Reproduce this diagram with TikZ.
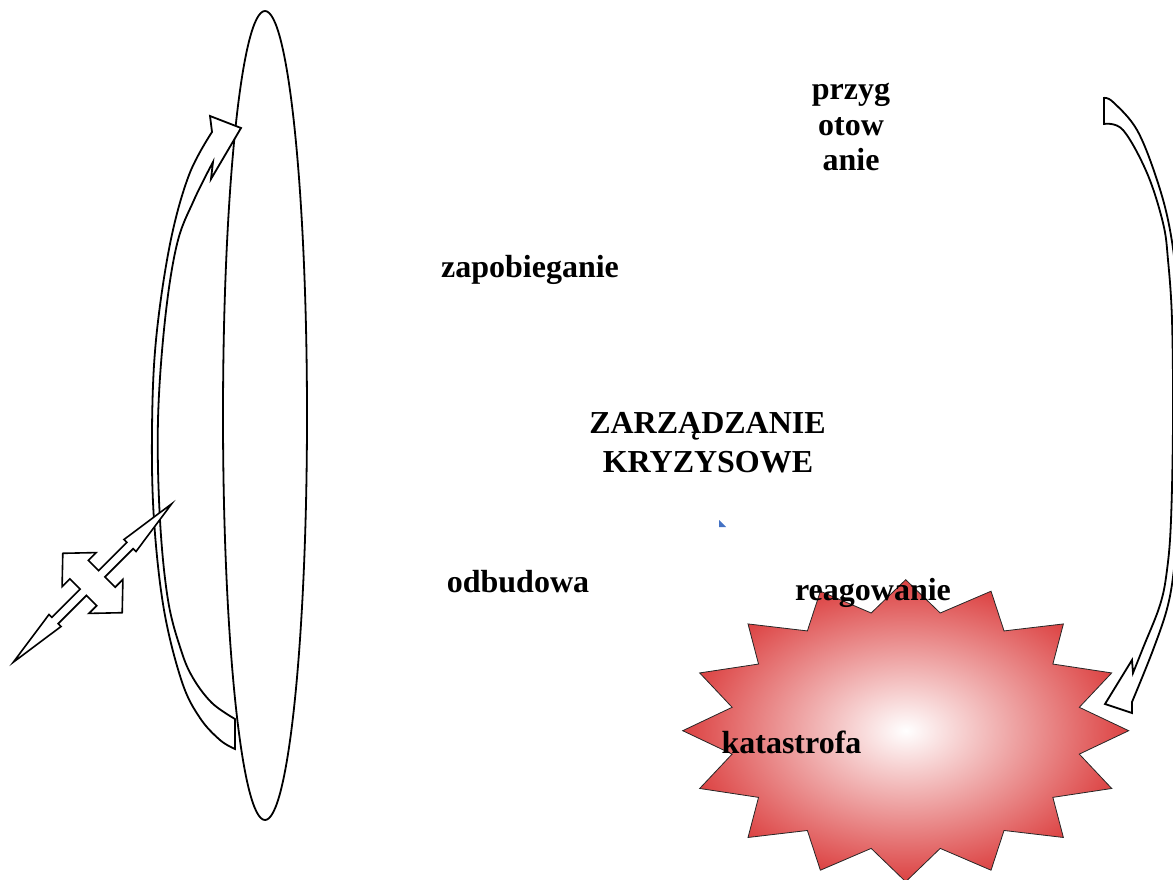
\documentclass[tikz,border=0pt]{standalone}
\usepackage{fontspec}
\setmainfont{Liberation Serif}
\definecolor{burstred}{RGB}{220,66,66}
\definecolor{tinyblue}{RGB}{68,114,196}
\pgfdeclareradialshading{burst}{\pgfpointorigin}{color(0bp)=(white); color(25bp)=(burstred); color(50bp)=(burstred)}
\begin{document}
\begin{tikzpicture}[x=1pt,y=-1pt,
  lbl/.style={font=\fontsize{32}{37}\selectfont\bfseries, inner sep=0pt, anchor=base},
  outline/.style={draw=black, line width=1.8pt, line join=miter, fill=white},
  starfill/.style={shading=burst, draw=black!85, line width=0.8pt}]
\useasboundingbox (0,0) rectangle (1173,880);
\clip (0,0) rectangle (1173,880);

% tall ellipse
\draw[outline] (265,415.5) ellipse [x radius=42pt, y radius=404.5pt];

% left curved arrow (up)
\draw[outline] (235,719) -- (235,749)
  -- plot[smooth, tension=0.6] coordinates {(235,749) (220,740) (200,718) (182,682) (164,610) (154,520) (152,430) (156,340) (170,244) (189,175) (212,132)}
  -- (210,116) -- (241,128) -- (211,179) -- (213,162)
  -- plot[smooth, tension=0.6] coordinates {(213,162) (194,200) (177,244) (165,320) (158,420) (160,520) (168,600) (181,650) (193,678) (212,703) (235,719)}
  -- cycle;

% quad arrow
\draw[outline, line width=1.6pt, shift={(92.5,583)}, rotate=45]
  (112,0) -- (53,8.5) -- (53,4.5) -- (13,4.5) -- (13,19) -- (24,19) -- (0,42)
  -- (-24,19) -- (-13,19) -- (-13,4.5) -- (-53,4.5) -- (-53,8.5) -- (-112,0)
  -- (-53,-8.5) -- (-53,-4.5) -- (-13,-4.5) -- (-13,-19) -- (-24,-19) -- (0,-42)
  -- (24,-19) -- (13,-19) -- (13,-4.5) -- (53,-4.5) -- (53,-8.5) -- cycle;

% starburst
\path[starfill] (1128.7,730.7)
  \foreach \k in {0,...,15} {
    -- ({905.7+177*cos(\k*22.5+11.25)},{730.7+120*sin(\k*22.5+11.25)})
    -- ({905.7+223*cos((\k+1)*22.5)},{730.7+151*sin((\k+1)*22.5)})
  } -- cycle;

% right curved arrow (down)
\draw[outline] (1104,124) -- (1104,98)
  -- plot[smooth, tension=0.6] coordinates {(1104,98) (1113,102) (1137,130) (1157,180) (1170,230) (1177,290) (1182,400) (1180,500) (1175,560) (1168,605) (1153,650) (1132,702)}
  -- (1132,713) -- (1105,704) -- (1132,660) -- (1133,673)
  -- plot[smooth, tension=0.6] coordinates {(1133,673) (1143,648) (1160,605) (1167,570) (1171,520) (1173,420) (1172,320) (1168,260) (1163,223) (1147,173) (1123,130) (1104,124)}
  -- cycle;

% tiny blue mark
\fill[tinyblue] (719,520) -- (719,527) -- (726,527) -- cycle;

% labels
\node[lbl] (prz1) at (851,100) {przyg};
\node[lbl] (prz2) at (851,136) {otow};
\node[lbl] (prz3) at (851,171) {anie};
\node[lbl] (zap) at (530,277) {zapobieganie};
\node[lbl] (zk1) at (707.5,433) {ZARZĄDZANIE};
\node[lbl] (zk2) at (708,472) {KRYZYSOWE};
\node[lbl] (odb) at (518,592) {odbudowa};
\node[lbl] (rea) at (873,600) {reagowanie};
\node[lbl] (kat) at (791.5,753) {katastrofa};
\end{tikzpicture}
\end{document}
